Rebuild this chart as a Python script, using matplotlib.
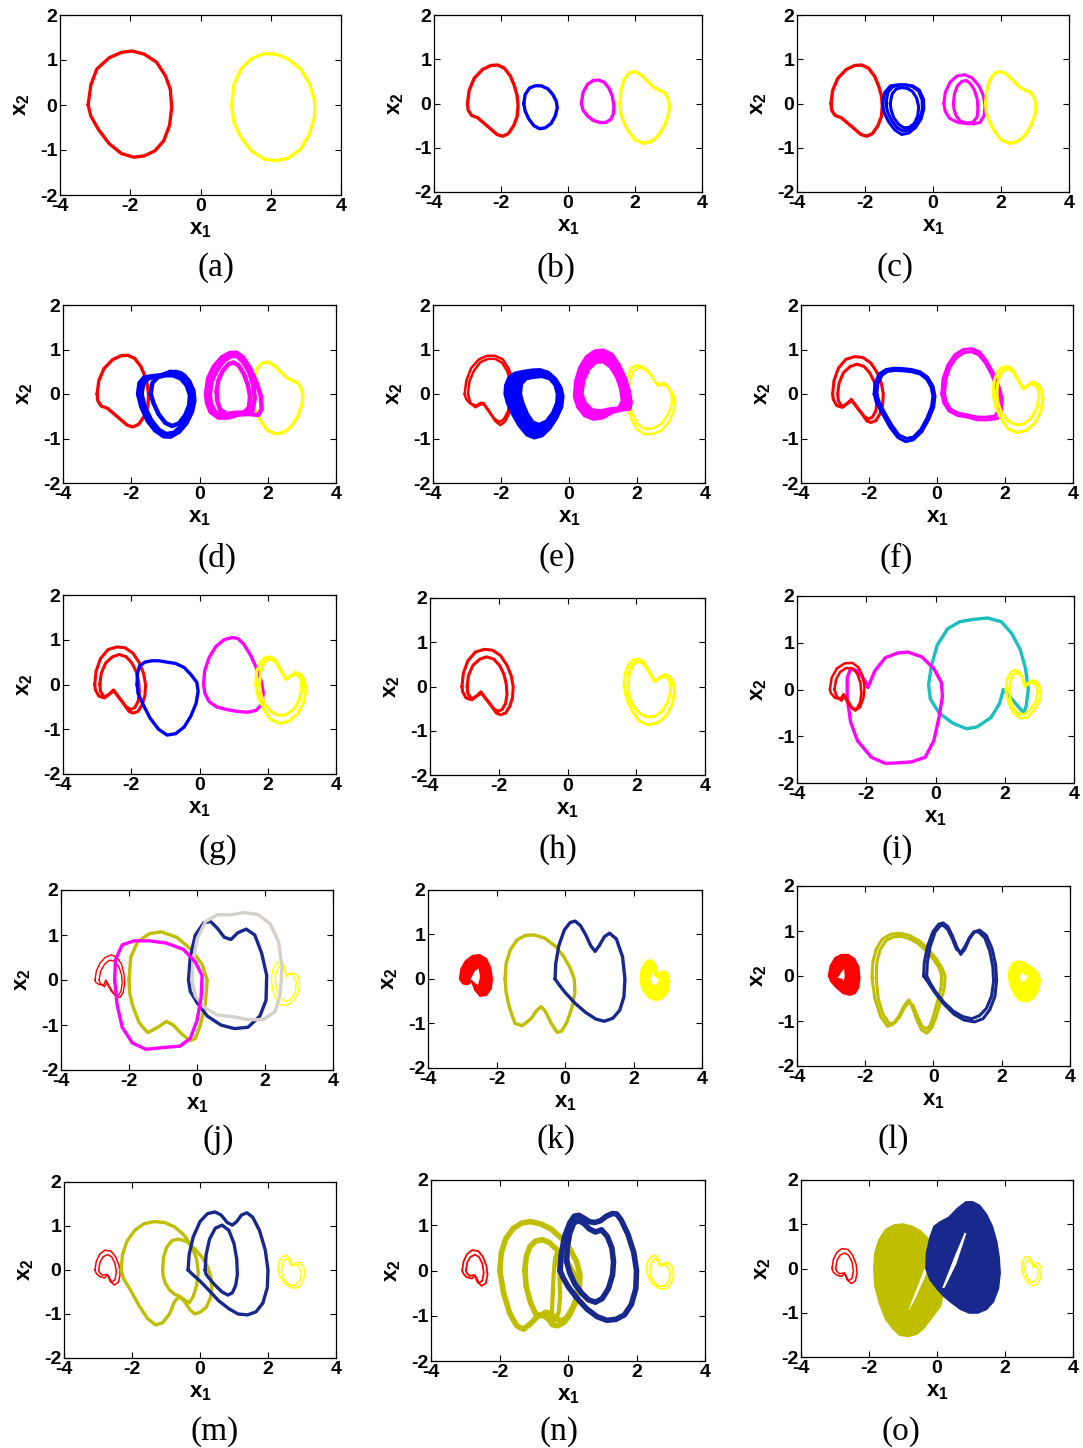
import matplotlib
matplotlib.use("Agg")
import matplotlib.pyplot as plt
from matplotlib.path import Path
from matplotlib.patches import PathPatch

plt.rcParams["font.family"] = ["Liberation Sans", "DejaVu Sans"]
plt.rcParams["font.weight"] = "bold"
plt.rcParams["axes.unicode_minus"] = False
plt.rcParams["mathtext.fontset"] = "custom"
plt.rcParams["mathtext.bf"] = "Liberation Sans:bold"
plt.rcParams["mathtext.rm"] = "Liberation Sans:bold"
plt.rcParams["mathtext.it"] = "Liberation Sans:bold"

RED = "#FF0000"
YEL = "#FFFF00"
BLUE = "#0000FF"
MAG = "#FF00FF"
CYAN = "#1ABFBF"
OLIVE = "#BFBF00"
NAVY = "#18288C"
GRAY = "#D5D0CA"

panel_labels = ["(a)", "(b)", "(c)", "(d)", "(e)", "(f)", "(g)", "(h)", "(i)",
                "(j)", "(k)", "(l)", "(m)", "(n)", "(o)"]
x_ticks = [-4, -2, 0, 2, 4]
y_ticks = [-2, -1, 0, 1, 2]

# ---- (a)
a_red_x = [-3.2, -3.12, -2.95, -2.6, -2.25, -1.95, -1.6, -1.25, -1.0, -0.86, -0.82, -0.88, -1.05, -1.3, -1.6, -1.9, -2.25, -2.6, -2.9, -3.12]
a_red_y = [0.0, 0.45, 0.8, 1.05, 1.17, 1.2, 1.13, 0.95, 0.65, 0.35, -0.05, -0.45, -0.8, -1.02, -1.13, -1.16, -1.08, -0.86, -0.55, -0.25]
a_yel_x = [0.89, 0.95, 1.15, 1.45, 1.8, 2.15, 2.5, 2.85, 3.1, 3.25, 3.25, 3.1, 2.85, 2.5, 2.15, 1.8, 1.45, 1.15, 0.95]
a_yel_y = [0.0, 0.45, 0.8, 1.03, 1.14, 1.13, 1.02, 0.8, 0.48, 0.1, -0.25, -0.65, -0.98, -1.18, -1.24, -1.2, -1.02, -0.72, -0.38]

# ---- (b), (c), (d)
b_red_x = [-3.0, -2.95, -2.8, -2.55, -2.3, -2.1, -1.9, -1.72, -1.6, -1.52, -1.49, -1.52, -1.62, -1.78, -1.95, -2.12, -2.3, -2.5, -2.7, -2.88, -2.98]
b_red_y = [0.0, 0.3, 0.57, 0.77, 0.86, 0.87, 0.8, 0.62, 0.4, 0.18, -0.05, -0.3, -0.5, -0.68, -0.74, -0.7, -0.58, -0.45, -0.32, -0.27, -0.15]
b_blue_x = [-1.32, -1.28, -1.15, -0.98, -0.8, -0.6, -0.45, -0.35, -0.32, -0.38, -0.5, -0.68, -0.85, -1.02, -1.17, -1.28]
b_blue_y = [0.0, 0.2, 0.35, 0.4, 0.4, 0.33, 0.2, 0.05, -0.1, -0.28, -0.45, -0.55, -0.57, -0.5, -0.35, -0.17]
b_mag_x = [0.4, 0.45, 0.58, 0.75, 0.92, 1.08, 1.22, 1.32, 1.37, 1.36, 1.28, 1.12, 0.95, 0.75, 0.58, 0.45]
b_mag_y = [0.0, 0.25, 0.43, 0.52, 0.53, 0.48, 0.35, 0.17, -0.05, -0.22, -0.36, -0.43, -0.43, -0.38, -0.28, -0.15]
b_yel_x = [1.55, 1.58, 1.68, 1.82, 2.0, 2.18, 2.38, 2.55, 2.72, 2.88, 2.98, 3.03, 3.0, 2.88, 2.7, 2.5, 2.25, 2.0, 1.8, 1.65, 1.57]
b_yel_y = [0.0, 0.3, 0.55, 0.69, 0.72, 0.65, 0.5, 0.37, 0.3, 0.25, 0.12, -0.05, -0.25, -0.5, -0.72, -0.85, -0.9, -0.82, -0.62, -0.4, -0.2]

c_blue1_x = [-1.48, -1.42, -1.25, -1.05, -0.82, -0.6, -0.4, -0.28, -0.27, -0.35, -0.52, -0.72, -0.92, -1.12, -1.3, -1.44]
c_blue1_y = [0.0, 0.25, 0.4, 0.42, 0.42, 0.4, 0.3, 0.1, -0.12, -0.35, -0.55, -0.67, -0.7, -0.6, -0.42, -0.2]
c_blue2_x = [-1.38, -1.33, -1.18, -1.0, -0.8, -0.6, -0.42, -0.32, -0.31, -0.38, -0.52, -0.7, -0.88, -1.05, -1.22, -1.34]
c_blue2_y = [0.0, 0.25, 0.38, 0.42, 0.42, 0.38, 0.28, 0.08, -0.12, -0.32, -0.5, -0.6, -0.62, -0.55, -0.38, -0.18]
c_blue3_x = [-1.26, -1.2, -1.08, -0.92, -0.75, -0.6, -0.48, -0.42, -0.45, -0.55, -0.7, -0.85, -1.0, -1.15, -1.23]
c_blue3_y = [0.0, 0.22, 0.33, 0.36, 0.34, 0.27, 0.12, -0.08, -0.28, -0.45, -0.54, -0.55, -0.48, -0.33, -0.15]
c_mag1_x = [0.32, 0.36, 0.5, 0.7, 0.93, 1.15, 1.35, 1.48, 1.53, 1.5, 1.38, 1.18, 0.95, 0.7, 0.48, 0.36]
c_mag1_y = [0.0, 0.25, 0.48, 0.62, 0.65, 0.58, 0.4, 0.18, -0.05, -0.28, -0.43, -0.46, -0.45, -0.42, -0.33, -0.18]
c_mag2_x = [0.6, 0.63, 0.72, 0.85, 0.98, 1.1, 1.22, 1.3, 1.32, 1.3, 1.18, 1.0, 0.8, 0.68, 0.62]
c_mag2_y = [0.0, 0.22, 0.4, 0.5, 0.52, 0.45, 0.3, 0.1, -0.1, -0.3, -0.42, -0.44, -0.4, -0.28, -0.14]

d_blue1_x = [-1.8, -1.76, -1.62, -1.4, -1.12, -0.85, -0.55, -0.32, -0.18, -0.15, -0.22, -0.38, -0.6, -0.85, -1.05, -1.3, -1.52, -1.7]
d_blue1_y = [0.0, 0.25, 0.37, 0.4, 0.42, 0.5, 0.47, 0.3, 0.08, -0.15, -0.4, -0.65, -0.85, -0.96, -0.95, -0.82, -0.6, -0.3]
d_blue2_x = [-1.7, -1.65, -1.5, -1.25, -0.95, -0.7, -0.45, -0.28, -0.2, -0.22, -0.33, -0.52, -0.75, -0.98, -1.2, -1.42, -1.6]
d_blue2_y = [0.0, 0.22, 0.35, 0.4, 0.45, 0.5, 0.42, 0.25, 0.0, -0.25, -0.5, -0.72, -0.87, -0.9, -0.8, -0.58, -0.3]
d_blue3_x = [-1.43, -1.38, -1.22, -1.0, -0.78, -0.55, -0.38, -0.28, -0.3, -0.42, -0.6, -0.8, -1.0, -1.2, -1.35]
d_blue3_y = [0.0, 0.25, 0.38, 0.42, 0.42, 0.35, 0.2, -0.02, -0.25, -0.48, -0.66, -0.72, -0.65, -0.45, -0.2]
d_mag1_x = [0.19, 0.25, 0.42, 0.65, 0.88, 1.08, 1.28, 1.48, 1.66, 1.8, 1.82, 1.72, 1.45, 1.15, 0.85, 0.55, 0.32, 0.22]
d_mag1_y = [0.0, 0.35, 0.62, 0.82, 0.92, 0.93, 0.82, 0.58, 0.28, -0.05, -0.35, -0.47, -0.45, -0.46, -0.53, -0.53, -0.4, -0.2]
d_mag2_x = [0.3, 0.36, 0.52, 0.72, 0.92, 1.1, 1.28, 1.45, 1.58, 1.62, 1.55, 1.3, 1.0, 0.7, 0.45, 0.33]
d_mag2_y = [0.0, 0.3, 0.55, 0.75, 0.85, 0.85, 0.72, 0.5, 0.2, -0.1, -0.38, -0.42, -0.44, -0.5, -0.4, -0.2]
d_mag3_x = [0.5, 0.55, 0.68, 0.85, 1.0, 1.15, 1.3, 1.42, 1.48, 1.45, 1.3, 1.05, 0.8, 0.6, 0.52]
d_mag3_y = [0.05, 0.3, 0.52, 0.67, 0.71, 0.64, 0.45, 0.2, -0.05, -0.3, -0.42, -0.42, -0.45, -0.35, -0.15]

# ---- (e)
e_red1_x = [-3.07, -3.02, -2.88, -2.65, -2.4, -2.18, -1.95, -1.78, -1.67, -1.63, -1.66, -1.75, -1.88, -2.02, -2.18, -2.35, -2.52, -2.6, -2.72, -2.9, -3.02]
e_red1_y = [0.0, 0.3, 0.58, 0.78, 0.86, 0.86, 0.78, 0.58, 0.35, 0.1, -0.15, -0.42, -0.62, -0.7, -0.6, -0.38, -0.2, -0.2, -0.26, -0.22, -0.12]
e_red2_x = [-2.97, -2.93, -2.8, -2.6, -2.38, -2.17, -1.97, -1.82, -1.73, -1.7, -1.73, -1.8, -1.92, -2.05, -2.2, -2.37, -2.52, -2.62, -2.75, -2.9]
e_red2_y = [0.0, 0.28, 0.52, 0.72, 0.79, 0.79, 0.7, 0.52, 0.3, 0.08, -0.15, -0.4, -0.57, -0.63, -0.55, -0.38, -0.22, -0.24, -0.3, -0.2]
e_blue_out_x = [-1.9, -1.88, -1.78, -1.6, -1.35, -1.1, -0.85, -0.6, -0.38, -0.22, -0.16, -0.2, -0.35, -0.55, -0.78, -1.02, -1.25, -1.48, -1.68, -1.83]
e_blue_out_y = [0.0, 0.2, 0.38, 0.48, 0.52, 0.55, 0.56, 0.5, 0.35, 0.15, -0.05, -0.3, -0.55, -0.78, -0.95, -1.0, -0.93, -0.72, -0.45, -0.2]
e_blue_in_x = [-1.41, -1.38, -1.25, -1.05, -0.8, -0.58, -0.43, -0.36, -0.38, -0.5, -0.68, -0.88, -1.05, -1.2, -1.33]
e_blue_in_y = [0.0, 0.22, 0.33, 0.36, 0.38, 0.33, 0.2, 0.0, -0.2, -0.42, -0.6, -0.67, -0.62, -0.45, -0.22]
e_mag_out_x = [0.14, 0.18, 0.3, 0.5, 0.75, 1.02, 1.28, 1.5, 1.68, 1.8, 1.85, 1.8, 1.6, 1.3, 1.0, 0.72, 0.45, 0.24]
e_mag_out_y = [-0.05, 0.3, 0.6, 0.85, 0.98, 1.0, 0.9, 0.65, 0.35, 0.05, -0.2, -0.35, -0.37, -0.42, -0.55, -0.58, -0.5, -0.3]
e_mag_in_x = [0.4, 0.45, 0.6, 0.8, 1.0, 1.2, 1.38, 1.5, 1.55, 1.45, 1.2, 0.95, 0.7, 0.5]
e_mag_in_y = [0.0, 0.3, 0.55, 0.7, 0.71, 0.6, 0.38, 0.12, -0.15, -0.3, -0.32, -0.36, -0.35, -0.2]
e_yel1_x = [1.65, 1.7, 1.82, 2.0, 2.2, 2.4, 2.55, 2.62, 2.75, 2.92, 3.05, 3.12, 3.08, 2.95, 2.72, 2.45, 2.22, 2.0, 1.82, 1.7]
e_yel1_y = [0.0, 0.35, 0.58, 0.65, 0.6, 0.45, 0.25, 0.18, 0.22, 0.15, 0.02, -0.15, -0.38, -0.62, -0.82, -0.9, -0.9, -0.8, -0.55, -0.28]
e_yel2_x = [1.75, 1.8, 1.9, 2.05, 2.22, 2.42, 2.57, 2.65, 2.78, 2.92, 3.02, 3.03, 2.92, 2.7, 2.45, 2.22, 2.02, 1.87, 1.78]
e_yel2_y = [0.0, 0.32, 0.52, 0.6, 0.56, 0.42, 0.24, 0.22, 0.25, 0.16, 0.0, -0.2, -0.45, -0.68, -0.78, -0.78, -0.68, -0.45, -0.22]

# ---- (f), (g), (h)
f_red1_x = [-3.07, -3.03, -2.9, -2.68, -2.42, -2.18, -1.95, -1.76, -1.64, -1.58, -1.6, -1.68, -1.8, -1.95, -2.07, -2.2, -2.35, -2.5, -2.62, -2.78, -2.95, -3.05]
f_red1_y = [0.0, 0.3, 0.58, 0.78, 0.84, 0.82, 0.7, 0.48, 0.25, 0.0, -0.25, -0.45, -0.6, -0.64, -0.6, -0.45, -0.3, -0.15, -0.2, -0.3, -0.26, -0.12]
f_red2_x = [-2.92, -2.88, -2.75, -2.55, -2.35, -2.15, -1.98, -1.85, -1.78, -1.76, -1.8, -1.9, -2.02, -2.15, -2.3, -2.45, -2.52, -2.65, -2.8, -2.9]
f_red2_y = [0.0, 0.25, 0.48, 0.62, 0.67, 0.62, 0.48, 0.28, 0.05, -0.18, -0.38, -0.52, -0.56, -0.5, -0.35, -0.2, -0.12, -0.22, -0.28, -0.15]
f_blue1_x = [-1.85, -1.82, -1.7, -1.5, -1.25, -1.0, -0.75, -0.5, -0.28, -0.12, -0.06, -0.1, -0.25, -0.45, -0.7, -0.92, -1.15, -1.38, -1.6, -1.78]
f_blue1_y = [0.0, 0.25, 0.45, 0.55, 0.58, 0.57, 0.55, 0.5, 0.38, 0.18, -0.05, -0.3, -0.58, -0.85, -1.03, -1.07, -0.98, -0.75, -0.45, -0.2]
f_blue2_x = [-1.77, -1.74, -1.62, -1.45, -1.22, -0.98, -0.74, -0.5, -0.3, -0.17, -0.12, -0.16, -0.3, -0.48, -0.7, -0.9, -1.12, -1.33, -1.54, -1.7]
f_blue2_y = [0.0, 0.23, 0.42, 0.51, 0.53, 0.52, 0.5, 0.45, 0.33, 0.15, -0.05, -0.28, -0.55, -0.8, -0.97, -1.0, -0.92, -0.7, -0.42, -0.18]
f_mag1_x = [0.14, 0.18, 0.32, 0.52, 0.78, 1.02, 1.25, 1.45, 1.65, 1.82, 1.92, 1.9, 1.78, 1.5, 1.2, 0.9, 0.6, 0.35, 0.2]
f_mag1_y = [0.0, 0.35, 0.65, 0.88, 1.0, 1.02, 0.95, 0.75, 0.48, 0.18, -0.1, -0.38, -0.55, -0.58, -0.58, -0.52, -0.48, -0.38, -0.2]
f_mag2_x = [0.22, 0.26, 0.38, 0.57, 0.8, 1.02, 1.23, 1.42, 1.6, 1.75, 1.84, 1.82, 1.7, 1.45, 1.18, 0.9, 0.62, 0.4, 0.27]
f_mag2_y = [0.0, 0.33, 0.6, 0.82, 0.93, 0.95, 0.88, 0.7, 0.45, 0.16, -0.1, -0.35, -0.5, -0.52, -0.52, -0.47, -0.43, -0.34, -0.18]
f_yel1_x = [1.65, 1.68, 1.78, 1.92, 2.08, 2.22, 2.35, 2.47, 2.53, 2.65, 2.82, 2.98, 3.08, 3.12, 3.05, 2.88, 2.62, 2.35, 2.08, 1.88, 1.72]
f_yel1_y = [0.0, 0.3, 0.5, 0.6, 0.62, 0.55, 0.38, 0.2, 0.11, 0.18, 0.27, 0.22, 0.08, -0.12, -0.4, -0.65, -0.82, -0.87, -0.78, -0.55, -0.28]
f_yel2_x = [1.76, 1.79, 1.88, 2.0, 2.12, 2.25, 2.38, 2.5, 2.58, 2.72, 2.88, 2.98, 3.0, 2.92, 2.75, 2.52, 2.3, 2.08, 1.9, 1.8]
f_yel2_y = [0.0, 0.28, 0.46, 0.55, 0.56, 0.48, 0.32, 0.16, 0.14, 0.22, 0.22, 0.1, -0.1, -0.35, -0.56, -0.68, -0.69, -0.6, -0.42, -0.22]
g_blue_x = [-1.83, -1.82, -1.75, -1.6, -1.4, -1.2, -0.95, -0.7, -0.45, -0.25, -0.08, -0.04, -0.1, -0.25, -0.45, -0.7, -0.95, -1.2, -1.45, -1.65, -1.8]
g_blue_y = [0.0, 0.25, 0.42, 0.5, 0.53, 0.53, 0.5, 0.47, 0.38, 0.22, 0.05, -0.15, -0.42, -0.7, -0.95, -1.1, -1.13, -1.0, -0.75, -0.45, -0.2]
g_mag_x = [0.12, 0.15, 0.28, 0.48, 0.72, 0.95, 1.12, 1.3, 1.5, 1.68, 1.82, 1.87, 1.82, 1.65, 1.4, 1.1, 0.8, 0.5, 0.28, 0.16]
g_mag_y = [0.0, 0.3, 0.6, 0.85, 1.0, 1.05, 1.03, 0.9, 0.65, 0.35, 0.05, -0.2, -0.45, -0.58, -0.62, -0.6, -0.56, -0.5, -0.38, -0.2]

# ---- (i)
i_red1_x = [-3.05, -3.0, -2.85, -2.62, -2.4, -2.22, -2.1, -2.05, -2.08, -2.18, -2.32, -2.45, -2.58, -2.65, -2.75, -2.9, -3.02]
i_red1_y = [0.0, 0.25, 0.45, 0.56, 0.57, 0.47, 0.28, 0.05, -0.18, -0.38, -0.45, -0.38, -0.22, -0.1, -0.2, -0.18, -0.08]
i_red2_x = [-2.92, -2.87, -2.75, -2.58, -2.4, -2.27, -2.17, -2.14, -2.18, -2.28, -2.4, -2.52, -2.62, -2.72, -2.85]
i_red2_y = [0.0, 0.22, 0.38, 0.46, 0.45, 0.35, 0.15, -0.08, -0.28, -0.42, -0.4, -0.25, -0.14, -0.24, -0.15]
i_mag_x = [-1.95, -1.75, -1.45, -1.1, -0.8, -0.4, -0.05, 0.17, 0.2, 0.1, -0.05, -0.3, -0.7, -1.1, -1.45, -1.85, -2.25, -2.45, -2.55, -2.55, -2.45, -2.25, -2.05]
i_mag_y = [0.05, 0.4, 0.68, 0.78, 0.8, 0.7, 0.45, 0.15, -0.15, -0.6, -1.1, -1.45, -1.55, -1.57, -1.58, -1.45, -1.1, -0.7, -0.2, 0.25, 0.45, 0.4, 0.2]
i_cyan_x = [1.96, 1.85, 1.6, 1.2, 0.9, 0.5, 0.1, -0.15, -0.2, -0.12, 0.05, 0.35, 0.7, 1.1, 1.5, 1.9, 2.2, 2.45, 2.6, 2.68, 2.62, 2.55]
i_cyan_y = [0.0, -0.3, -0.6, -0.8, -0.84, -0.72, -0.5, -0.2, 0.1, 0.5, 0.95, 1.3, 1.45, 1.5, 1.53, 1.45, 1.2, 0.85, 0.45, 0.0, -0.35, -0.5]
i_yel1_x = [2.03, 2.07, 2.18, 2.32, 2.45, 2.53, 2.58, 2.68, 2.85, 2.98, 3.05, 3.0, 2.85, 2.65, 2.45, 2.25, 2.1]
i_yel1_y = [0.0, 0.22, 0.38, 0.42, 0.35, 0.18, 0.05, 0.15, 0.2, 0.12, -0.05, -0.25, -0.45, -0.6, -0.62, -0.5, -0.28]
i_yel2_x = [2.13, 2.17, 2.27, 2.4, 2.5, 2.56, 2.62, 2.75, 2.88, 2.95, 2.9, 2.75, 2.57, 2.4, 2.25, 2.16]
i_yel2_y = [0.0, 0.2, 0.33, 0.36, 0.28, 0.13, 0.08, 0.15, 0.12, -0.05, -0.25, -0.42, -0.53, -0.52, -0.4, -0.2]

# ---- (j)
j_red1_x = [-3.0, -2.96, -2.85, -2.7, -2.52, -2.35, -2.22, -2.15, -2.13, -2.17, -2.27, -2.4, -2.52, -2.62, -2.68, -2.75, -2.88, -2.98]
j_red1_y = [0.0, 0.2, 0.38, 0.5, 0.56, 0.5, 0.35, 0.15, -0.08, -0.28, -0.39, -0.35, -0.25, -0.12, 0.0, -0.12, -0.1, -0.05]
j_red2_x = [-2.88, -2.83, -2.72, -2.58, -2.43, -2.3, -2.22, -2.2, -2.24, -2.33, -2.45, -2.55, -2.64, -2.72, -2.84]
j_red2_y = [0.0, 0.2, 0.35, 0.44, 0.42, 0.3, 0.12, -0.08, -0.26, -0.35, -0.3, -0.18, -0.05, -0.15, -0.08]
j_olive_x = [-2.0, -1.95, -1.75, -1.4, -1.05, -0.6, -0.2, 0.15, 0.3, 0.25, 0.1, -0.05, -0.2, -0.45, -0.7, -0.9, -1.15, -1.45, -1.7, -1.88, -1.98]
j_olive_y = [0.0, 0.5, 0.85, 1.03, 1.07, 0.95, 0.7, 0.35, 0.0, -0.5, -1.0, -1.3, -1.35, -1.2, -1.0, -0.92, -1.05, -1.17, -0.95, -0.6, -0.3]
j_mag_x = [-2.42, -2.4, -2.2, -1.85, -1.4, -0.9, -0.4, -0.05, 0.15, 0.12, 0.0, -0.2, -0.5, -1.0, -1.5, -1.9, -2.2, -2.35]
j_mag_y = [0.0, 0.45, 0.78, 0.87, 0.87, 0.82, 0.68, 0.4, 0.1, -0.4, -0.9, -1.3, -1.47, -1.5, -1.54, -1.4, -1.05, -0.55]
j_navy_x = [-0.25, -0.2, -0.05, 0.2, 0.4, 0.6, 0.8, 1.0, 1.2, 1.45, 1.7, 1.9, 2.05, 2.03, 1.85, 1.5, 1.1, 0.7, 0.3, 0.0, -0.2]
j_navy_y = [0.0, 0.5, 1.0, 1.27, 1.3, 1.15, 0.95, 0.9, 1.05, 1.13, 1.0, 0.6, 0.1, -0.45, -0.8, -1.05, -1.08, -1.0, -0.8, -0.5, -0.25]
j_gray_x = [-0.15, -0.12, 0.0, 0.25, 0.6, 1.0, 1.4, 1.8, 2.15, 2.4, 2.5, 2.45, 2.3, 1.95, 1.5, 1.1, 0.6, 0.2, -0.05]
j_gray_y = [0.0, 0.4, 0.9, 1.3, 1.45, 1.45, 1.5, 1.45, 1.25, 0.85, 0.3, -0.3, -0.7, -0.88, -0.88, -0.82, -0.78, -0.6, -0.35]
j_yel1_x = [2.19, 2.22, 2.32, 2.45, 2.55, 2.6, 2.63, 2.72, 2.85, 2.97, 3.02, 2.98, 2.85, 2.65, 2.45, 2.3, 2.22]
j_yel1_y = [0.0, 0.22, 0.36, 0.41, 0.35, 0.2, 0.07, 0.15, 0.15, 0.08, -0.08, -0.28, -0.45, -0.56, -0.55, -0.4, -0.2]
j_yel2_x = [2.3, 2.34, 2.42, 2.52, 2.58, 2.62, 2.7, 2.82, 2.92, 2.9, 2.78, 2.6, 2.45, 2.34]
j_yel2_y = [0.0, 0.2, 0.32, 0.33, 0.2, 0.1, 0.14, 0.12, -0.05, -0.25, -0.42, -0.48, -0.4, -0.2]

# ---- (k)
k_red_x = [-3.07, -3.03, -2.9, -2.7, -2.5, -2.3, -2.18, -2.13, -2.17, -2.3, -2.48, -2.62, -2.72, -2.85, -2.98]
k_red_y = [0.0, 0.22, 0.4, 0.52, 0.54, 0.45, 0.25, 0.0, -0.22, -0.36, -0.38, -0.25, -0.05, -0.12, -0.1]
k_red_in_x = [-2.8, -2.65, -2.5, -2.45, -2.52, -2.62]
k_red_in_y = [-0.02, 0.2, 0.28, 0.05, -0.18, -0.12]
k_olive_x = [-1.75, -1.72, -1.6, -1.4, -1.15, -0.9, -0.6, -0.3, -0.05, 0.15, 0.27, 0.29, 0.2, 0.05, -0.1, -0.23, -0.4, -0.58, -0.7, -0.82, -1.0, -1.25, -1.46, -1.62, -1.72]
k_olive_y = [0.0, 0.35, 0.65, 0.88, 0.98, 0.99, 0.92, 0.75, 0.52, 0.25, 0.0, -0.3, -0.65, -0.98, -1.17, -1.2, -1.0, -0.72, -0.62, -0.7, -0.9, -1.05, -1.0, -0.65, -0.3]
k_navy_x = [-0.29, -0.27, -0.18, -0.02, 0.15, 0.3, 0.45, 0.6, 0.75, 0.88, 1.0, 1.15, 1.3, 1.5, 1.68, 1.75, 1.72, 1.6, 1.4, 1.15, 0.9, 0.6, 0.3, 0.0, -0.2]
k_navy_y = [0.0, 0.35, 0.75, 1.1, 1.27, 1.3, 1.2, 1.0, 0.75, 0.62, 0.75, 0.95, 1.03, 0.9, 0.5, 0.0, -0.4, -0.7, -0.88, -0.95, -0.9, -0.75, -0.55, -0.3, -0.1]
k_yel_x = [2.2, 2.24, 2.35, 2.5, 2.62, 2.68, 2.72, 2.85, 2.98, 3.05, 3.0, 2.85, 2.65, 2.45, 2.3, 2.22]
k_yel_y = [0.0, 0.22, 0.38, 0.43, 0.35, 0.2, 0.1, 0.18, 0.15, -0.05, -0.28, -0.43, -0.48, -0.42, -0.28, -0.12]
k_yel_in_x = [2.45, 2.55, 2.65, 2.78, 2.7, 2.55]
k_yel_in_y = [0.0, 0.2, 0.05, 0.02, -0.15, -0.15]

# ---- (l)
l_red_out_x = [-3.07, -3.02, -2.88, -2.7, -2.5, -2.32, -2.2, -2.17, -2.2, -2.3, -2.45, -2.65, -2.85, -3.0]
l_red_out_y = [0.0, 0.22, 0.4, 0.47, 0.47, 0.38, 0.2, -0.05, -0.25, -0.38, -0.42, -0.38, -0.25, -0.12]
l_red_in_x = [-2.86, -2.72, -2.6, -2.57, -2.62, -2.7]
l_red_in_y = [-0.06, 0.1, 0.22, 0.0, -0.2, -0.08]
l_olive1_x = [-1.8, -1.78, -1.68, -1.5, -1.25, -0.98, -0.7, -0.42, -0.15, 0.08, 0.25, 0.34, 0.32, 0.22, 0.08, -0.05, -0.2, -0.35, -0.5, -0.62, -0.72, -0.85, -1.02, -1.2, -1.35, -1.55, -1.72]
l_olive1_y = [-0.05, 0.3, 0.6, 0.82, 0.93, 0.95, 0.9, 0.78, 0.6, 0.38, 0.18, 0.0, -0.25, -0.55, -0.9, -1.15, -1.27, -1.2, -0.95, -0.7, -0.53, -0.65, -0.9, -1.08, -1.12, -0.9, -0.5]
l_olive2_x = [-1.68, -1.66, -1.57, -1.4, -1.18, -0.95, -0.7, -0.45, -0.2, 0.02, 0.17, 0.24, 0.22, 0.12, 0.0, -0.1, -0.22, -0.35, -0.48, -0.6, -0.72, -0.85, -1.0, -1.15, -1.3, -1.48, -1.62]
l_olive2_y = [-0.05, 0.3, 0.58, 0.78, 0.87, 0.88, 0.83, 0.72, 0.55, 0.35, 0.17, 0.0, -0.25, -0.55, -0.88, -1.1, -1.18, -1.1, -0.88, -0.65, -0.58, -0.7, -0.92, -1.05, -1.05, -0.85, -0.5]
l_navy1_x = [-0.29, -0.27, -0.18, -0.02, 0.15, 0.28, 0.42, 0.55, 0.68, 0.8, 0.92, 1.05, 1.2, 1.35, 1.55, 1.72, 1.82, 1.85, 1.8, 1.65, 1.45, 1.2, 0.9, 0.6, 0.3, 0.05, -0.15]
l_navy1_y = [0.0, 0.3, 0.65, 0.98, 1.15, 1.18, 1.1, 0.9, 0.65, 0.48, 0.6, 0.82, 0.98, 1.02, 0.9, 0.6, 0.25, -0.1, -0.45, -0.75, -0.95, -1.02, -0.98, -0.85, -0.62, -0.38, -0.15]
l_navy2_x = [-0.2, -0.18, -0.1, 0.05, 0.2, 0.3, 0.42, 0.55, 0.67, 0.8, 0.92, 1.05, 1.18, 1.32, 1.5, 1.65, 1.74, 1.76, 1.7, 1.55, 1.35, 1.12, 0.85, 0.58, 0.3, 0.06, -0.1]
l_navy2_y = [0.0, 0.3, 0.65, 0.98, 1.12, 1.12, 1.03, 0.83, 0.6, 0.52, 0.65, 0.85, 0.98, 0.98, 0.85, 0.55, 0.2, -0.12, -0.45, -0.72, -0.88, -0.95, -0.9, -0.78, -0.58, -0.35, -0.15]
l_yel_out_x = [2.2, 2.24, 2.35, 2.5, 2.65, 2.8, 2.95, 3.07, 3.12, 3.08, 2.95, 2.75, 2.55, 2.38, 2.25]
l_yel_out_y = [0.0, 0.18, 0.3, 0.33, 0.3, 0.22, 0.15, 0.05, -0.1, -0.3, -0.48, -0.57, -0.55, -0.42, -0.2]
l_yel_in_x = [2.5, 2.6, 2.65, 2.8, 2.72, 2.6, 2.52]
l_yel_in_y = [0.0, 0.2, 0.05, 0.02, -0.12, -0.15, -0.1]

# ---- (m), (n), (o)
m_red1_x = [-3.09, -3.05, -2.95, -2.8, -2.62, -2.48, -2.38, -2.35, -2.4, -2.52, -2.65, -2.72, -2.8, -2.95, -3.05]
m_red1_y = [0.0, 0.2, 0.36, 0.45, 0.43, 0.3, 0.1, -0.1, -0.28, -0.34, -0.25, -0.1, -0.18, -0.15, -0.08]
m_red2_x = [-2.98, -2.94, -2.85, -2.72, -2.6, -2.5, -2.46, -2.5, -2.6, -2.68, -2.75, -2.87, -2.95]
m_red2_y = [0.0, 0.18, 0.3, 0.35, 0.3, 0.15, -0.05, -0.22, -0.28, -0.15, -0.1, -0.12, -0.06]
m_yel1_x = [2.29, 2.32, 2.42, 2.55, 2.65, 2.7, 2.78, 2.92, 3.05, 3.09, 3.02, 2.88, 2.7, 2.5, 2.35]
m_yel1_y = [0.0, 0.18, 0.3, 0.34, 0.25, 0.1, 0.15, 0.18, 0.08, -0.1, -0.28, -0.4, -0.41, -0.32, -0.15]
m_yel2_x = [2.4, 2.44, 2.53, 2.62, 2.68, 2.76, 2.88, 2.98, 2.95, 2.82, 2.65, 2.5, 2.42]
m_yel2_y = [0.0, 0.18, 0.26, 0.22, 0.1, 0.12, 0.12, -0.05, -0.22, -0.34, -0.35, -0.25, -0.12]
m_olive1_x = [-2.32, -2.28, -2.15, -1.92, -1.65, -1.35, -1.05, -0.75, -0.48, -0.25, -0.1, -0.05, -0.1, -0.2, -0.32, -0.45, -0.6, -0.75, -0.9, -1.1, -1.3, -1.55, -1.8, -2.05, -2.25]
m_olive1_y = [0.0, 0.35, 0.65, 0.9, 1.05, 1.1, 1.08, 0.98, 0.8, 0.55, 0.25, -0.05, -0.35, -0.6, -0.75, -0.68, -0.6, -0.72, -1.0, -1.2, -1.25, -1.1, -0.8, -0.45, -0.2]
m_olive2_x = [-1.1, -1.07, -0.98, -0.82, -0.62, -0.4, -0.18, 0.05, 0.22, 0.32, 0.35, 0.3, 0.18, 0.02, -0.15, -0.3, -0.45, -0.6, -0.75, -0.9, -1.02, -1.08]
m_olive2_y = [0.0, 0.3, 0.52, 0.67, 0.7, 0.65, 0.5, 0.3, 0.08, -0.15, -0.4, -0.65, -0.85, -0.95, -1.0, -0.9, -0.72, -0.6, -0.55, -0.45, -0.3, -0.15]
m_navy1_x = [-0.35, -0.32, -0.2, 0.0, 0.22, 0.44, 0.62, 0.8, 0.95, 1.08, 1.22, 1.38, 1.55, 1.75, 1.92, 2.0, 1.98, 1.85, 1.65, 1.4, 1.12, 0.85, 0.55, 0.25, 0.0, -0.22]
m_navy1_y = [0.0, 0.35, 0.75, 1.1, 1.28, 1.32, 1.25, 1.08, 1.02, 1.1, 1.25, 1.3, 1.2, 0.9, 0.45, 0.0, -0.4, -0.75, -0.95, -1.02, -1.0, -0.88, -0.7, -0.45, -0.25, -0.1]
m_navy2_x = [0.15, 0.18, 0.28, 0.45, 0.65, 0.85, 1.0, 1.08, 1.1, 1.05, 0.95, 0.82, 0.65, 0.45, 0.28, 0.18]
m_navy2_y = [0.0, 0.35, 0.7, 0.95, 1.02, 0.9, 0.6, 0.25, -0.1, -0.35, -0.52, -0.57, -0.5, -0.35, -0.2, -0.1]

n_olive1_x = [-1.99, -1.95, -1.82, -1.6, -1.35, -1.1, -0.8, -0.5, -0.2, 0.05, 0.25, 0.35, 0.33, 0.22, 0.05, -0.12, -0.3, -0.45, -0.6, -0.75, -0.9, -1.1, -1.3, -1.5, -1.7, -1.88]
n_olive1_y = [0.0, 0.38, 0.7, 0.93, 1.05, 1.08, 1.03, 0.92, 0.72, 0.48, 0.2, -0.1, -0.4, -0.7, -0.98, -1.15, -1.22, -1.2, -1.05, -0.98, -1.02, -1.18, -1.3, -1.22, -0.95, -0.5]
n_olive2_x = [-1.26, -1.22, -1.12, -0.95, -0.75, -0.55, -0.35, -0.15, 0.05, 0.2, 0.28, 0.25, 0.12, -0.05, -0.2, -0.35, -0.5, -0.65, -0.8, -0.95, -1.1, -1.22]
n_olive2_y = [0.0, 0.3, 0.52, 0.65, 0.68, 0.62, 0.48, 0.3, 0.1, -0.12, -0.35, -0.6, -0.85, -1.05, -1.12, -1.05, -0.95, -0.92, -1.0, -0.95, -0.7, -0.35]
n_olive3_x = [-0.48, -0.45, -0.42, -0.38, -0.33, -0.28, -0.25, -0.23, -0.28, -0.38, -0.45]
n_olive3_y = [-1.05, -0.6, -0.1, 0.25, 0.38, 0.25, -0.1, -0.6, -0.95, -1.1, -1.1]
n_navy1_x = [-0.23, -0.2, -0.1, 0.05, 0.18, 0.32, 0.48, 0.62, 0.78, 0.95, 1.12, 1.3, 1.42, 1.55, 1.75, 1.92, 2.0, 1.98, 1.85, 1.65, 1.4, 1.13, 0.85, 0.55, 0.25, 0.0, -0.15]
n_navy1_y = [0.0, 0.35, 0.75, 1.05, 1.2, 1.22, 1.15, 1.08, 1.06, 1.1, 1.2, 1.26, 1.25, 1.12, 0.8, 0.4, 0.0, -0.4, -0.75, -0.98, -1.08, -1.1, -1.02, -0.85, -0.6, -0.35, -0.15]
n_navy2_x = [-0.04, -0.02, 0.05, 0.17, 0.3, 0.45, 0.62, 0.8, 0.98, 1.15, 1.28, 1.33, 1.3, 1.18, 1.0, 0.8, 0.6, 0.4, 0.2, 0.05]
n_navy2_y = [0.2, 0.5, 0.82, 1.05, 1.1, 1.05, 0.92, 0.85, 0.9, 0.75, 0.5, 0.2, -0.1, -0.4, -0.62, -0.7, -0.65, -0.5, -0.3, -0.05]

o_olive_out_x = [-1.85, -1.82, -1.7, -1.5, -1.25, -1.0, -0.75, -0.5, -0.3, -0.18, -0.1, 0.0, 0.1, 0.15, 0.1, -0.05, -0.2, -0.4, -0.6, -0.85, -1.1, -1.3, -1.5, -1.68, -1.82]
o_olive_out_y = [0.0, 0.35, 0.65, 0.88, 0.98, 1.0, 0.95, 0.85, 0.7, 0.5, 0.3, 0.05, -0.3, -0.65, -0.85, -1.0, -1.15, -1.35, -1.48, -1.53, -1.5, -1.35, -1.15, -0.8, -0.4]
o_olive_in_x = [-0.88, -0.5, -0.08, -0.02, -0.3, -0.65, -0.8]
o_olive_in_y = [-0.95, -0.2, 0.62, 0.55, -0.15, -0.75, -0.95]
o_navy_out_x = [-0.32, -0.3, -0.2, -0.08, 0.1, 0.35, 0.6, 0.85, 1.05, 1.25, 1.45, 1.62, 1.75, 1.82, 1.85, 1.8, 1.65, 1.45, 1.2, 0.95, 0.7, 0.45, 0.2, 0.0, -0.2]
o_navy_out_y = [0.0, 0.35, 0.7, 0.95, 1.05, 1.15, 1.35, 1.5, 1.5, 1.42, 1.22, 0.95, 0.6, 0.25, -0.1, -0.45, -0.75, -0.92, -1.0, -1.0, -0.92, -0.78, -0.62, -0.45, -0.25]
o_navy_in_x = [0.1, 0.5, 0.8, 0.9, 0.6, 0.25]
o_navy_in_y = [-0.48, 0.3, 0.85, 0.8, 0.1, -0.45]
o_yel1_x = [2.49, 2.52, 2.6, 2.72, 2.8, 2.84, 2.9, 3.0, 3.08, 3.06, 2.95, 2.8, 2.65, 2.54]
o_yel1_y = [0.0, 0.18, 0.27, 0.26, 0.15, 0.05, 0.12, 0.12, -0.02, -0.2, -0.35, -0.39, -0.3, -0.15]
o_yel2_x = [2.58, 2.62, 2.7, 2.78, 2.83, 2.92, 3.0, 2.96, 2.85, 2.72, 2.62]
o_yel2_y = [0.0, 0.15, 0.2, 0.12, 0.02, 0.06, -0.05, -0.2, -0.3, -0.3, -0.15]

# axes boxes in pixels: left, right, top, bottom ; caption centre
W, H = 1083, 1448
boxes = [(60, 341, 15, 195), (434, 702, 15, 192), (797, 1069, 15, 192),
         (63, 336, 305, 483), (433, 705, 305, 483), (801, 1073, 305, 483),
         (63, 336, 595, 774), (430, 705, 598, 775), (797, 1074, 596, 783),
         (61, 333, 890, 1070), (428, 702, 890, 1068), (797, 1070, 886, 1066),
         (64, 336, 1182, 1358), (431, 705, 1180, 1361), (801, 1073, 1180, 1357)]
captions = [(216, 268), (556, 268), (895, 268), (217, 558), (557, 558), (896, 558),
            (218, 850), (558, 850), (897, 850), (218, 1140), (556, 1140), (893, 1140),
            (215, 1432), (559, 1432), (901, 1432)]

# line curves per panel: (x, y, colour, width)
lines = [
    [(a_red_x, a_red_y, RED, 2.4), (a_yel_x, a_yel_y, YEL, 2.4)],
    [(b_red_x, b_red_y, RED, 2.4), (b_blue_x, b_blue_y, BLUE, 2.4),
     (b_mag_x, b_mag_y, MAG, 2.4), (b_yel_x, b_yel_y, YEL, 2.4)],
    [(b_red_x, b_red_y, RED, 2.4), (c_blue1_x, c_blue1_y, BLUE, 2.2), (c_blue2_x, c_blue2_y, BLUE, 2.2),
     (c_blue3_x, c_blue3_y, BLUE, 2.2), (c_mag1_x, c_mag1_y, MAG, 2.2), (c_mag2_x, c_mag2_y, MAG, 2.2),
     (b_yel_x, b_yel_y, YEL, 2.4)],
    [(b_red_x, b_red_y, RED, 2.4), (b_yel_x, b_yel_y, YEL, 2.4),
     (d_blue1_x, d_blue1_y, BLUE, 3.2), (d_blue2_x, d_blue2_y, BLUE, 3.2), (d_blue3_x, d_blue3_y, BLUE, 3.2),
     (d_mag1_x, d_mag1_y, MAG, 3.2), (d_mag2_x, d_mag2_y, MAG, 3.2), (d_mag3_x, d_mag3_y, MAG, 3.2)],
    [(e_red1_x, e_red1_y, RED, 1.8), (e_red2_x, e_red2_y, RED, 1.8),
     (e_yel1_x, e_yel1_y, YEL, 1.8), (e_yel2_x, e_yel2_y, YEL, 1.8)],
    [(f_red1_x, f_red1_y, RED, 2.2), (f_red2_x, f_red2_y, RED, 2.2),
     (f_blue1_x, f_blue1_y, BLUE, 2.2), (f_blue2_x, f_blue2_y, BLUE, 2.2),
     (f_mag1_x, f_mag1_y, MAG, 2.2), (f_mag2_x, f_mag2_y, MAG, 2.2),
     (f_yel1_x, f_yel1_y, YEL, 2.2), (f_yel2_x, f_yel2_y, YEL, 2.2)],
    [(f_red1_x, f_red1_y, RED, 2.2), (f_red2_x, f_red2_y, RED, 2.2),
     (g_blue_x, g_blue_y, BLUE, 2.4), (g_mag_x, g_mag_y, MAG, 2.4),
     (f_yel1_x, f_yel1_y, YEL, 2.2), (f_yel2_x, f_yel2_y, YEL, 2.2)],
    [(f_red1_x, f_red1_y, RED, 2.2), (f_red2_x, f_red2_y, RED, 2.2),
     (f_yel1_x, f_yel1_y, YEL, 2.2), (f_yel2_x, f_yel2_y, YEL, 2.2)],
    [(i_cyan_x, i_cyan_y, CYAN, 2.4), (i_mag_x, i_mag_y, MAG, 2.4),
     (i_red1_x, i_red1_y, RED, 1.8), (i_red2_x, i_red2_y, RED, 1.8),
     (i_yel1_x, i_yel1_y, YEL, 1.8), (i_yel2_x, i_yel2_y, YEL, 1.8)],
    [(j_red1_x, j_red1_y, RED, 1.0), (j_red2_x, j_red2_y, RED, 1.0),
     (j_yel1_x, j_yel1_y, YEL, 1.0), (j_yel2_x, j_yel2_y, YEL, 1.0),
     (j_olive_x, j_olive_y, OLIVE, 2.4), (j_navy_x, j_navy_y, NAVY, 2.4),
     (j_gray_x, j_gray_y, GRAY, 2.4), (j_mag_x, j_mag_y, MAG, 2.4)],
    [(k_olive_x, k_olive_y, OLIVE, 2.4), (k_navy_x, k_navy_y, NAVY, 2.4)],
    [(l_olive1_x, l_olive1_y, OLIVE, 2.2), (l_olive2_x, l_olive2_y, OLIVE, 2.2),
     (l_navy1_x, l_navy1_y, NAVY, 2.2), (l_navy2_x, l_navy2_y, NAVY, 2.2)],
    [(m_red1_x, m_red1_y, RED, 1.1), (m_red2_x, m_red2_y, RED, 1.1),
     (m_yel1_x, m_yel1_y, YEL, 1.1), (m_yel2_x, m_yel2_y, YEL, 1.1),
     (m_olive1_x, m_olive1_y, OLIVE, 2.4), (m_olive2_x, m_olive2_y, OLIVE, 2.4),
     (m_navy1_x, m_navy1_y, NAVY, 2.4), (m_navy2_x, m_navy2_y, NAVY, 2.4)],
    [(m_red1_x, m_red1_y, RED, 1.3), (m_red2_x, m_red2_y, RED, 1.3),
     (m_yel1_x, m_yel1_y, YEL, 1.3), (m_yel2_x, m_yel2_y, YEL, 1.3),
     (n_olive1_x, n_olive1_y, OLIVE, 4.0), (n_olive2_x, n_olive2_y, OLIVE, 4.0), (n_olive3_x, n_olive3_y, OLIVE, 3.0),
     (n_navy1_x, n_navy1_y, NAVY, 4.0), (n_navy2_x, n_navy2_y, NAVY, 4.0)],
    [(m_red1_x, m_red1_y, RED, 1.1), (m_red2_x, m_red2_y, RED, 1.1),
     (o_yel1_x, o_yel1_y, YEL, 1.1), (o_yel2_x, o_yel2_y, YEL, 1.1)],
]

# filled rings: (outer x, outer y, hole x, hole y, colour, panel)
rings = [
    (e_blue_out_x, e_blue_out_y, e_blue_in_x, e_blue_in_y, BLUE, 4),
    (e_mag_out_x, e_mag_out_y, e_mag_in_x, e_mag_in_y, MAG, 4),
    (k_red_x, k_red_y, k_red_in_x, k_red_in_y, RED, 10),
    (k_yel_x, k_yel_y, k_yel_in_x, k_yel_in_y, YEL, 10),
    (l_red_out_x, l_red_out_y, l_red_in_x, l_red_in_y, RED, 11),
    (l_yel_out_x, l_yel_out_y, l_yel_in_x, l_yel_in_y, YEL, 11),
    (o_olive_out_x, o_olive_out_y, o_olive_in_x, o_olive_in_y, OLIVE, 14),
    (o_navy_out_x, o_navy_out_y, o_navy_in_x, o_navy_in_y, NAVY, 14),
]


def area(xs, ys):
    s = 0.0
    for i in range(len(xs)):
        j = (i + 1) % len(xs)
        s += xs[i] * ys[j] - xs[j] * ys[i]
    return s


def ring(ax, ox, oy, hx, hy, color):
    outer = list(zip(ox, oy))
    hole = list(zip(hx, hy))
    if (area(ox, oy) > 0) == (area(hx, hy) > 0):
        hole = hole[::-1]
    verts = outer + [outer[0]] + hole + [hole[0]]
    codes = ([Path.MOVETO] + [Path.LINETO] * (len(outer) - 1) + [Path.CLOSEPOLY]
             + [Path.MOVETO] + [Path.LINETO] * (len(hole) - 1) + [Path.CLOSEPOLY])
    ax.add_patch(PathPatch(Path(verts, codes), facecolor=color, edgecolor=color,
                           lw=1.5, joinstyle="round"))


fig = plt.figure(figsize=(W / 100, H / 100), dpi=100)
axes = []
for k, (l, r, t, b) in enumerate(boxes):
    ax = fig.add_axes([l / W, 1 - b / H, (r - l) / W, (b - t) / H])
    ax.set_xlim(-4, 4)
    ax.set_ylim(-2, 2)
    ax.set_xticks(x_ticks)
    ax.set_yticks(y_ticks)
    ax.tick_params(direction="in", length=4, width=0.8, top=True, right=True,
                   labelsize=14, pad=2)
    for sp in ax.spines.values():
        sp.set_linewidth(0.9)
    ax.set_xlabel(r"$\mathbf{x_1}$", fontsize=16, labelpad=3)
    ax.set_ylabel(r"$\mathbf{x_2}$", fontsize=16, labelpad=6)
    axes.append(ax)
    cx, cy = captions[k]
    fig.text(cx / W, 1 - cy / H, panel_labels[k], ha="center", va="center",
             family="Liberation Serif", fontweight="normal", fontsize=24)

for ox, oy, hx, hy, col, k in rings:
    ring(axes[k], ox, oy, hx, hy, col)

for k, curves in enumerate(lines):
    for xs, ys, col, lw in curves:
        axes[k].plot(xs + xs[:1], ys + ys[:1], color=col, lw=lw,
                     solid_joinstyle="round", solid_capstyle="round")

# in (e) the bands sit over the thin loops
for p in axes[4].patches:
    p.set_zorder(3)

fig.savefig("out.png", dpi=100)
